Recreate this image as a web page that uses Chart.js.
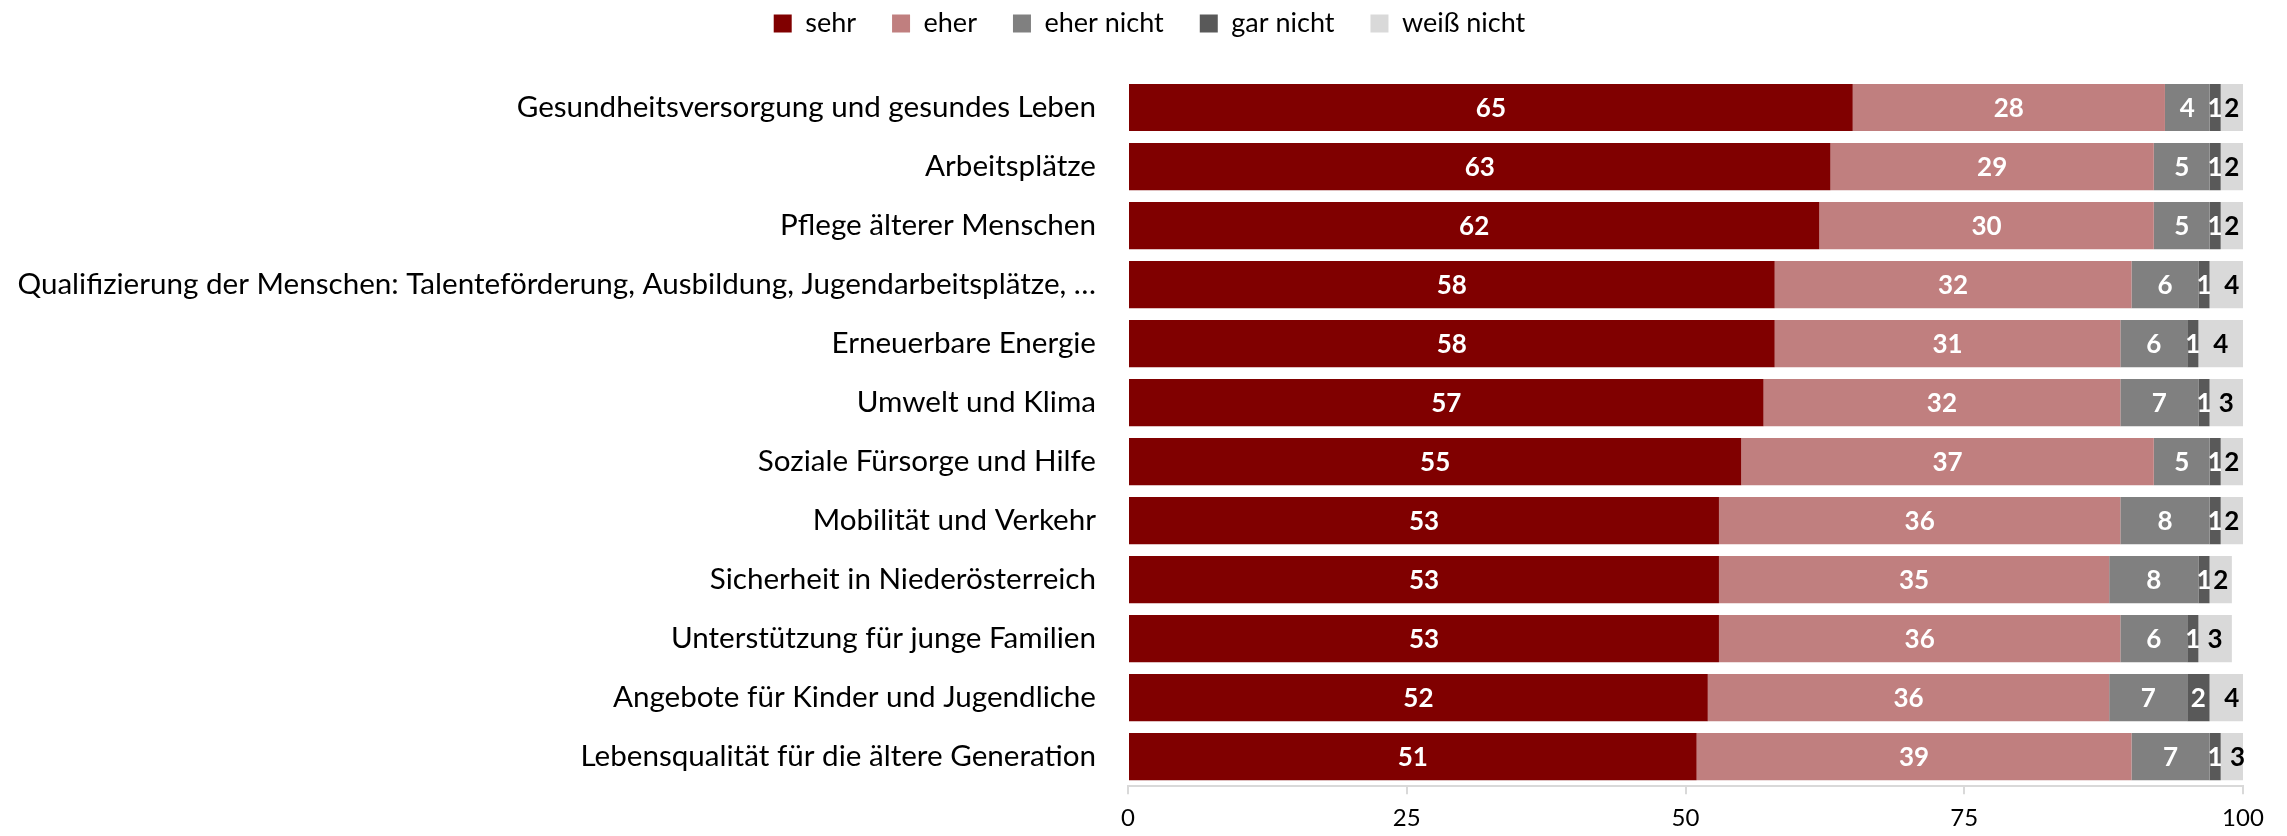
<!DOCTYPE html>
<html>
<head>
<meta charset="utf-8">
<script src="https://cdn.jsdelivr.net/npm/chart.js@4.4.1/dist/chart.umd.min.js"></script>
<style>
  html, body { margin: 0; padding: 0; background: #fff; }
  #wrap { width: 2287px; height: 836px; }
</style>
</head>
<body>
<div id="wrap"><canvas id="chart" width="2287" height="836"></canvas></div>
<script>
// Kategorien (von oben nach unten)
const categories = [
  'Gesundheitsversorgung und gesundes Leben',
  'Arbeitsplätze',
  'Pflege älterer Menschen',
  'Qualifizierung der Menschen: Talenteförderung, Ausbildung, Jugendarbeitsplätze, …',
  'Erneuerbare Energie',
  'Umwelt und Klima',
  'Soziale Fürsorge und Hilfe',
  'Mobilität und Verkehr',
  'Sicherheit in Niederösterreich',
  'Unterstützung für junge Familien',
  'Angebote für Kinder und Jugendliche',
  'Lebensqualität für die ältere Generation'
];

// Anteile in Prozent
const sehr       = [65, 63, 62, 58, 58, 57, 55, 53, 53, 53, 52, 51];
const eher       = [28, 29, 30, 32, 31, 32, 37, 36, 35, 36, 36, 39];
const eherNicht  = [4, 5, 5, 6, 6, 7, 5, 8, 8, 6, 7, 7];
const garNicht   = [1, 1, 1, 1, 1, 1, 1, 1, 1, 1, 2, 1];
const weissNicht = [2, 2, 2, 4, 4, 3, 2, 2, 2, 3, 4, 3];

const seriesNames = ['sehr', 'eher', 'eher nicht', 'gar nicht', 'weiß nicht'];
const xTicks = [0, 25, 50, 75, 100];

const FONT = 'Lato';

// Werte mittig in die Balkensegmente schreiben
const barLabels = {
  id: 'barLabels',
  afterDatasetsDraw(chart) {
    const ctx = chart.ctx;
    ctx.save();
    ctx.font = 'bold 26px ' + FONT;
    ctx.textAlign = 'center';
    ctx.textBaseline = 'middle';
    chart.data.datasets.forEach((ds, i) => {
      const meta = chart.getDatasetMeta(i);
      meta.data.forEach((bar, j) => {
        const { x, y, base } = bar.getProps(['x', 'y', 'base'], true);
        ctx.fillStyle = ds.labelColor;
        ctx.fillText(ds.data[j], (x + base) / 2, y + 1);
      });
    });
    ctx.restore();
  }
};

// Legende etwas höher/rechts setzen und Abstand zum Diagramm vergrößern
const legendGap = {
  id: 'legendGap',
  beforeInit(chart) {
    const fit = chart.legend.fit;
    chart.legend.fit = function () {
      fit.call(this);
      this.height = 78;
    };
  },
  afterLayout(chart) {
    const lg = chart.legend;
    lg.top = -26;
    lg.left += 28;
    lg.right += 28;
  }
};

function makeChart() {
  const ctx = document.getElementById('chart').getContext('2d');
  new Chart(ctx, {
    type: 'bar',
    data: {
      labels: categories,
      datasets: [
        { label: seriesNames[0], data: sehr,       backgroundColor: '#800000', labelColor: '#ffffff' },
        { label: seriesNames[1], data: eher,       backgroundColor: '#C07F7F', labelColor: '#ffffff' },
        { label: seriesNames[2], data: eherNicht,  backgroundColor: '#808080', labelColor: '#ffffff' },
        { label: seriesNames[3], data: garNicht,   backgroundColor: '#595959', labelColor: '#ffffff' },
        { label: seriesNames[4], data: weissNicht, backgroundColor: '#D9D9D9', labelColor: '#000000' }
      ]
    },
    options: {
      indexAxis: 'y',
      responsive: false,
      animation: false,
      barPercentage: 0.8,
      categoryPercentage: 1.0,
      layout: {
        padding: { left: 0, right: 44, top: 0, bottom: 0 }
      },
      scales: {
        x: {
          stacked: true,
          min: 0,
          max: 100,
          afterBuildTicks: s => { s.ticks = xTicks.map(v => ({ value: v })); },
          afterFit: s => { s.height = 48; },
          grid: {
            drawOnChartArea: false,
            drawTicks: true,
            tickLength: 8,
            color: '#D9D9D9',
            lineWidth: 2
          },
          border: { display: true, color: '#D9D9D9', width: 2 },
          ticks: {
            color: '#000000',
            padding: 10,
            maxRotation: 0,
            font: { family: FONT, size: 24 }
          }
        },
        y: {
          stacked: true,
          afterFit: s => { s.width = 1128; },
          grid: { display: false, drawTicks: false },
          border: { display: false },
          ticks: {
            color: '#000000',
            padding: 32,
            autoSkip: false,
            font: { family: FONT, size: 29.6 }
          }
        }
      },
      plugins: {
        legend: {
          position: 'top',
          align: 'center',
          labels: {
            color: '#000000',
            boxWidth: 18,
            boxHeight: 18,
            padding: 36,
            font: { family: FONT, size: 27 }
          }
        },
        tooltip: { enabled: false }
      }
    },
    plugins: [barLabels, legendGap]
  });
}

Promise.all([
  document.fonts.load('30px ' + FONT),
  document.fonts.load('bold 26px ' + FONT)
]).then(makeChart, makeChart);
</script>
</body>
</html>
